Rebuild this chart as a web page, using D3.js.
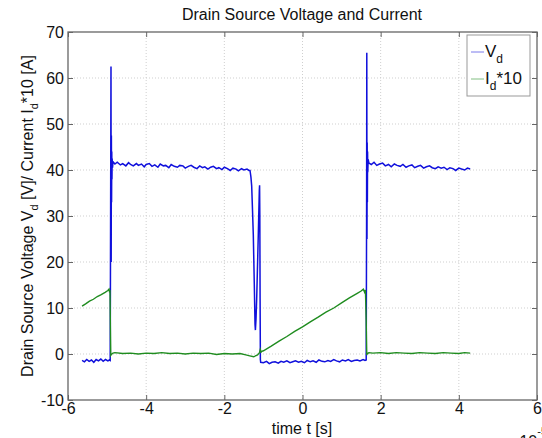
<!DOCTYPE html>
<html><head><meta charset="utf-8">
<script src="https://cdn.jsdelivr.net/npm/d3@7"></script>
<style>body{margin:0;background:#fff}svg{display:block}text{font-family:"Liberation Sans",Arial,sans-serif}</style>
</head><body>
<script>
// time in units of 1e-5 s
const xTicks = [-6,-4,-2,0,2,4,6];
const yTicks = [-10,0,10,20,30,40,50,60,70];
const seriesNames = ["V_d","I_d*10"];

const timeVd = [-5.64,-5.58,-5.52,-5.46,-5.40,-5.34,-5.28,-5.22,-5.16,-5.10,-5.04,-4.98,-4.94,
 -4.92,-4.91,-4.90,-4.895,-4.89,-4.885,-4.88,-4.875,-4.87,-4.86,-4.85,
 -4.8,-4.74,-4.66,-4.6,-4.52,-4.45,-4.4,-4.33,-4.25,-4.2,-4.12,-4.05,-4.0,-3.92,-3.85,-3.78,-3.7,-3.64,-3.56,-3.5,-3.42,-3.36,-3.28,-3.2,-3.14,-3.06,-3.0,-2.92,-2.85,-2.78,-2.7,-2.63,-2.56,-2.5,-2.42,-2.35,-2.28,-2.2,-2.14,-2.06,-2.0,-1.92,-1.85,-1.78,-1.7,-1.64,-1.56,-1.5,-1.42,-1.37,
 -1.343,-1.32,-1.30,-1.28,-1.259,-1.233,-1.215,-1.205,-1.19,-1.172,-1.131,-1.105,-1.098,-1.092,-1.085,-1.078,-1.07,
 -1.0,-0.92,-0.85,-0.78,-0.7,-0.62,-0.55,-0.48,-0.4,-0.32,-0.25,-0.18,-0.1,-0.03,0.05,0.12,0.2,0.27,0.35,0.42,0.5,0.57,0.65,0.72,0.8,0.87,0.95,1.02,1.1,1.17,1.25,1.32,1.4,1.47,1.55,1.6,1.63,
 1.64,1.645,1.65,1.655,1.66,1.665,1.67,1.68,1.70,
 1.76,1.83,1.9,1.97,2.05,2.12,2.2,2.27,2.35,2.42,2.5,2.57,2.65,2.72,2.8,2.87,2.95,3.02,3.1,3.17,3.25,3.32,3.4,3.47,3.55,3.62,3.7,3.77,3.85,3.92,4.0,4.07,4.15,4.22,4.29];
const vd = [-1.4,-1.7,-1.2,-1.6,-1.3,-1.8,-1.2,-1.5,-1.1,-1.6,-1.2,-1.5,-1.3,
 -1.4,30,62.5,20,47.5,33,44,38,42.5,40.5,41.8,
 41.3,41.7,41.1,41.4,40.9,41.6,41.2,40.9,41.4,41.0,41.3,40.7,41.2,41.4,40.8,41.1,40.6,41.3,40.9,41.0,40.5,41.2,40.8,40.6,41.0,40.9,40.4,40.8,41.0,40.6,40.3,40.9,40.5,40.7,40.2,40.6,40.8,40.3,40.5,40.1,40.6,40.3,39.9,40.4,40.2,39.8,40.3,40.0,40.2,39.9,
 39.9,38.5,36.5,31.5,26,15,6.5,5.2,7.5,12,26,35.5,36.7,30,12,-1.2,-1.8,
 -1.9,-1.6,-2.1,-1.8,-1.7,-2.0,-1.6,-1.8,-1.5,-1.9,-1.7,-1.5,-1.8,-1.6,-1.9,-1.4,-1.7,-1.5,-1.8,-1.3,-1.6,-1.7,-1.4,-1.6,-1.2,-1.5,-1.7,-1.3,-1.5,-1.2,-1.6,-1.4,-1.3,-1.5,-1.2,-1.4,-1.3,
 30,65.5,25,46,33,44,39.5,42.3,41.5,
 41.2,41.7,41.0,41.3,41.5,40.9,41.2,40.7,41.3,41.0,40.8,41.2,40.6,40.9,41.1,40.5,40.8,41.0,40.4,40.7,40.9,40.5,40.3,40.7,40.4,40.6,40.1,40.5,40.3,39.9,40.4,40.2,40.0,40.4,40.2];

const timeId = [-5.64,-5.55,-5.45,-5.35,-5.25,-5.15,-5.05,-4.98,-4.95,-4.935,-4.925,-4.915,-4.905,-4.89,-4.85,
 -4.8,-4.6,-4.4,-4.2,-4.0,-3.8,-3.6,-3.4,-3.2,-3.0,-2.8,-2.6,-2.4,-2.2,-2.0,-1.8,-1.6,-1.45,-1.35,-1.25,-1.15,-1.1,-1.08,-1.06,-1.04,
 -1.0,-0.8,-0.6,-0.4,-0.2,0.0,0.2,0.4,0.6,0.8,1.0,1.2,1.4,1.5,1.556,1.59,1.61,1.63,1.645,1.66,1.7,
 1.8,2.0,2.2,2.4,2.6,2.8,3.0,3.2,3.4,3.6,3.8,4.0,4.15,4.29];
const id10 = [10.4,10.9,11.5,11.9,12.5,12.9,13.4,13.8,14.1,13.4,13.9,6,-0.3,-0.1,0.2,
 0.3,0.1,0.2,0.0,0.2,0.1,0.3,0.1,0.2,0.0,0.2,0.1,0.2,-0.1,0.1,0.0,0.1,-0.2,-0.4,-0.6,-0.2,0.3,1.0,0.4,0.6,
 0.7,1.7,2.8,3.8,4.9,5.9,7.0,8.0,9.1,10.0,11.1,12.2,13.2,13.7,14.1,13.4,13.9,7,-0.2,0.1,0.3,
 0.2,0.3,0.1,0.3,0.2,0.1,0.3,0.2,0.1,0.3,0.2,0.1,0.3,0.2];

const W=542,H=438;
const m={left:68,right:537,top:32,bottom:400};
const FONT="'Liberation Sans',Arial,sans-serif";
const svg=d3.select("body").append("svg").attr("width",W).attr("height",H);
const x=d3.scaleLinear().domain([-6,6]).range([m.left,m.right]);
const y=d3.scaleLinear().domain([-10,70]).range([m.bottom,m.top]);

// grid
const g=svg.append("g");
g.selectAll(".gx").data(xTicks.slice(1,-1)).join("line")
 .attr("x1",d=>x(d)).attr("x2",d=>x(d)).attr("y1",m.top).attr("y2",m.bottom)
 .attr("stroke","#cfcfcf").attr("stroke-dasharray","1,2");
g.selectAll(".gy").data(yTicks.slice(1,-1)).join("line")
 .attr("y1",d=>y(d)).attr("y2",d=>y(d)).attr("x1",m.left).attr("x2",m.right)
 .attr("stroke","#cfcfcf").attr("stroke-dasharray","1,2");

// lines
const lineVd=d3.line().x((d,i)=>x(timeVd[i])).y(d=>y(d));
const lineId=d3.line().x((d,i)=>x(timeId[i])).y(d=>y(d));
svg.append("path").attr("d",lineVd(vd)).attr("fill","none").attr("stroke","#1010dc").attr("stroke-width",1.5);
svg.append("path").attr("d",lineId(id10)).attr("fill","none").attr("stroke","#1f8c1f").attr("stroke-width",1.4);

// axes (matlab style, inward ticks, box)
const ax=svg.append("g");
const axCol="#666";
ax.append("rect").attr("x",m.left).attr("y",m.top).attr("width",m.right-m.left).attr("height",m.bottom-m.top)
 .attr("fill","none").attr("stroke",axCol).attr("stroke-width",1.3);
const fmt=d=>String(d);
const bottomAxis=d3.axisBottom(x).tickValues(xTicks).tickSize(-5).tickFormat(fmt);
const leftAxis=d3.axisLeft(y).tickValues(yTicks).tickSize(-5).tickFormat(fmt);
const topAxis=d3.axisTop(x).tickValues(xTicks).tickSize(-5).tickFormat("");
const rightAxis=d3.axisRight(y).tickValues(yTicks).tickSize(-5).tickFormat("");
function style(sel){sel.select(".domain").remove();sel.selectAll("line").attr("stroke",axCol);
 sel.selectAll("text").attr("fill","#111").style("font-size","16px").style("font-family",FONT);}
ax.append("g").attr("transform",`translate(0,${m.bottom})`).call(bottomAxis).call(style)
 .selectAll("text").attr("dy","0.71em").attr("y",3);
ax.append("g").attr("transform",`translate(${m.left},0)`).call(leftAxis).call(style)
 .selectAll("text").attr("x",-4);
ax.append("g").attr("transform",`translate(0,${m.top})`).call(topAxis).call(style);
ax.append("g").attr("transform",`translate(${m.right},0)`).call(rightAxis).call(style);

// title
svg.append("text").attr("x",302).attr("y",20).attr("text-anchor","middle").style("font-size","16px").attr("fill","#111")
 .text("Drain Source Voltage and Current");
// x label
svg.append("text").attr("x",302).attr("y",434).attr("text-anchor","middle").style("font-size","16px").attr("fill","#111")
 .text("time t [s]");
// exponent
const ex=svg.append("text").attr("x",507).attr("y",447).style("font-size","16px").attr("fill","#111");
ex.append("tspan").text("x 10");
ex.append("tspan").attr("dy",-12).style("font-size","11px").text("-5");
// y label
const yl=svg.append("text").attr("transform","translate(33,216) rotate(-90)").attr("text-anchor","middle")
 .style("font-size","16px").attr("fill","#111");
yl.append("tspan").text("Drain Source Voltage V");
yl.append("tspan").attr("dy",5).style("font-size","11px").text("d");
yl.append("tspan").attr("dy",-5).text(" [V]/ Current I");
yl.append("tspan").attr("dy",5).style("font-size","11px").text("d");
yl.append("tspan").attr("dy",-5).text("*10 [A]");

// legend
const lg=svg.append("g");
lg.append("rect").attr("x",467).attr("y",35).attr("width",63).attr("height",61).attr("fill","#fff").attr("stroke","#999").attr("stroke-width",1);
const legCols=["#1010dc","#1f8c1f"];
seriesNames.forEach((n,i)=>{
 const yy=52+i*27;
 lg.append("line").attr("x1",471).attr("x2",484).attr("y1",yy).attr("y2",yy).attr("stroke",legCols[i]).attr("stroke-width",1).attr("opacity",0.55);
 const t=lg.append("text").attr("x",485).attr("y",yy+5).style("font-size","17px").attr("fill","#111");
 const parts=n.split("_");
 t.append("tspan").text(parts[0]);
 const sub=parts[1].split("*");
 t.append("tspan").attr("dy",6).style("font-size","12px").text(sub[0]);
 if(sub[1]) t.append("tspan").attr("dy",-6).text("*"+sub[1]);
});
</script>
</body></html>
